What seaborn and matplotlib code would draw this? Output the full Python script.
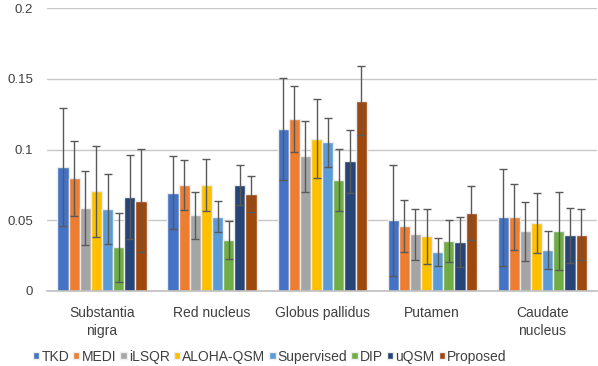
import numpy as np
import pandas as pd
import seaborn as sns
import matplotlib.pyplot as plt

# Regions and methods
regions = ["Substantia\nnigra", "Red nucleus", "Globus pallidus", "Putamen", "Caudate\nnucleus"]
methods = ["TKD", "MEDI", "iLSQR", "ALOHA-QSM", "Supervised", "DIP", "uQSM", "Proposed"]

# Mean values per method (one entry per region)
tkd = [0.0876, 0.0695, 0.1143, 0.0499, 0.0520]
medi = [0.0796, 0.0749, 0.1213, 0.0459, 0.0525]
ilsqr = [0.0587, 0.0535, 0.0952, 0.0400, 0.0422]
aloha = [0.0704, 0.0749, 0.1077, 0.0386, 0.0478]
supervised = [0.0580, 0.0525, 0.1051, 0.0276, 0.0290]
dip = [0.0309, 0.0360, 0.0782, 0.0351, 0.0424]
uqsm = [0.0664, 0.0749, 0.0916, 0.0346, 0.0394]
proposed = [0.0638, 0.0686, 0.1345, 0.0551, 0.0398]

# Standard deviations
tkd_sd = [0.0420, 0.0260, 0.0360, 0.0394, 0.0340]
medi_sd = [0.0266, 0.0177, 0.0233, 0.0186, 0.0233]
ilsqr_sd = [0.0263, 0.0167, 0.0252, 0.0182, 0.0209]
aloha_sd = [0.0321, 0.0184, 0.0280, 0.0194, 0.0212]
supervised_sd = [0.0250, 0.0109, 0.0172, 0.0099, 0.0136]
dip_sd = [0.0244, 0.0135, 0.0219, 0.0149, 0.0276]
uqsm_sd = [0.0299, 0.0144, 0.0224, 0.0174, 0.0195]
proposed_sd = [0.0366, 0.0129, 0.0245, 0.0193, 0.0179]

means = [tkd, medi, ilsqr, aloha, supervised, dip, uqsm, proposed]
sds = [tkd_sd, medi_sd, ilsqr_sd, aloha_sd, supervised_sd, dip_sd, uqsm_sd, proposed_sd]

colors = ["#4472C4", "#ED7D31", "#A5A5A5", "#FFC000", "#5B9BD5", "#70AD47", "#264478", "#9E480E"]

rows = []
for m, vals, errs in zip(methods, means, sds):
    for r, v, e in zip(regions, vals, errs):
        rows.append({"region": r, "method": m, "value": v, "sd": e})
df = pd.DataFrame(rows)

sns.set_style("white")
plt.rcParams['font.family'] = ['Liberation Sans', 'DejaVu Sans']

fig = plt.figure(figsize=(5.98, 3.66), dpi=100)
ax = fig.add_axes([0.0786, 0.205, 0.92, 0.773])

sns.barplot(data=df, x="region", y="value", hue="method", order=regions,
            hue_order=methods, palette=colors, saturation=1, errorbar=None, width=0.81,
            edgecolor="#EDEDED", linewidth=1.0, ax=ax, zorder=2)

# error bars on top of each bar
for container, m in zip(ax.containers, methods):
    sub = df[df["method"] == m].set_index("region").loc[regions]
    xs = [p.get_x() + p.get_width() / 2 for p in container.patches]
    ax.errorbar(xs, sub["value"], yerr=sub["sd"], fmt="none", ecolor="#595959",
                elinewidth=1.0, capsize=3, capthick=1.0, zorder=3)

ax.set_xlim(-0.5, 4.5)
ax.set_ylim(0, 0.2)
ax.set_yticks([0, 0.05, 0.1, 0.15, 0.2])
ax.set_yticklabels(["0", "0.05", "0.1", "0.15", "0.2"])
ax.yaxis.grid(True, color="#C8C8C8", linewidth=1.0, zorder=0)
ax.set_axisbelow(True)
for s in ["top", "right", "left"]:
    ax.spines[s].set_visible(False)
ax.spines["bottom"].set_color("#BFBFBF")
ax.spines["bottom"].set_linewidth(1.2)
ax.tick_params(axis="both", length=0, labelsize=10, colors="#404040")
ax.tick_params(axis="x", pad=11)
ax.tick_params(axis="y", pad=10, labelsize=9.5)
for lbl in ax.get_xticklabels():
    lbl.set_linespacing(1.35)
ax.set_xlabel("")
ax.set_ylabel("")

ax.legend(loc="center", bbox_to_anchor=(0.405, -0.232), ncol=8, frameon=False,
          fontsize=10, handlelength=0.45, handleheight=0.45, handletextpad=0.15,
          columnspacing=0.3, labelcolor="#404040", borderaxespad=0)

fig.savefig("out.png", dpi=100)
